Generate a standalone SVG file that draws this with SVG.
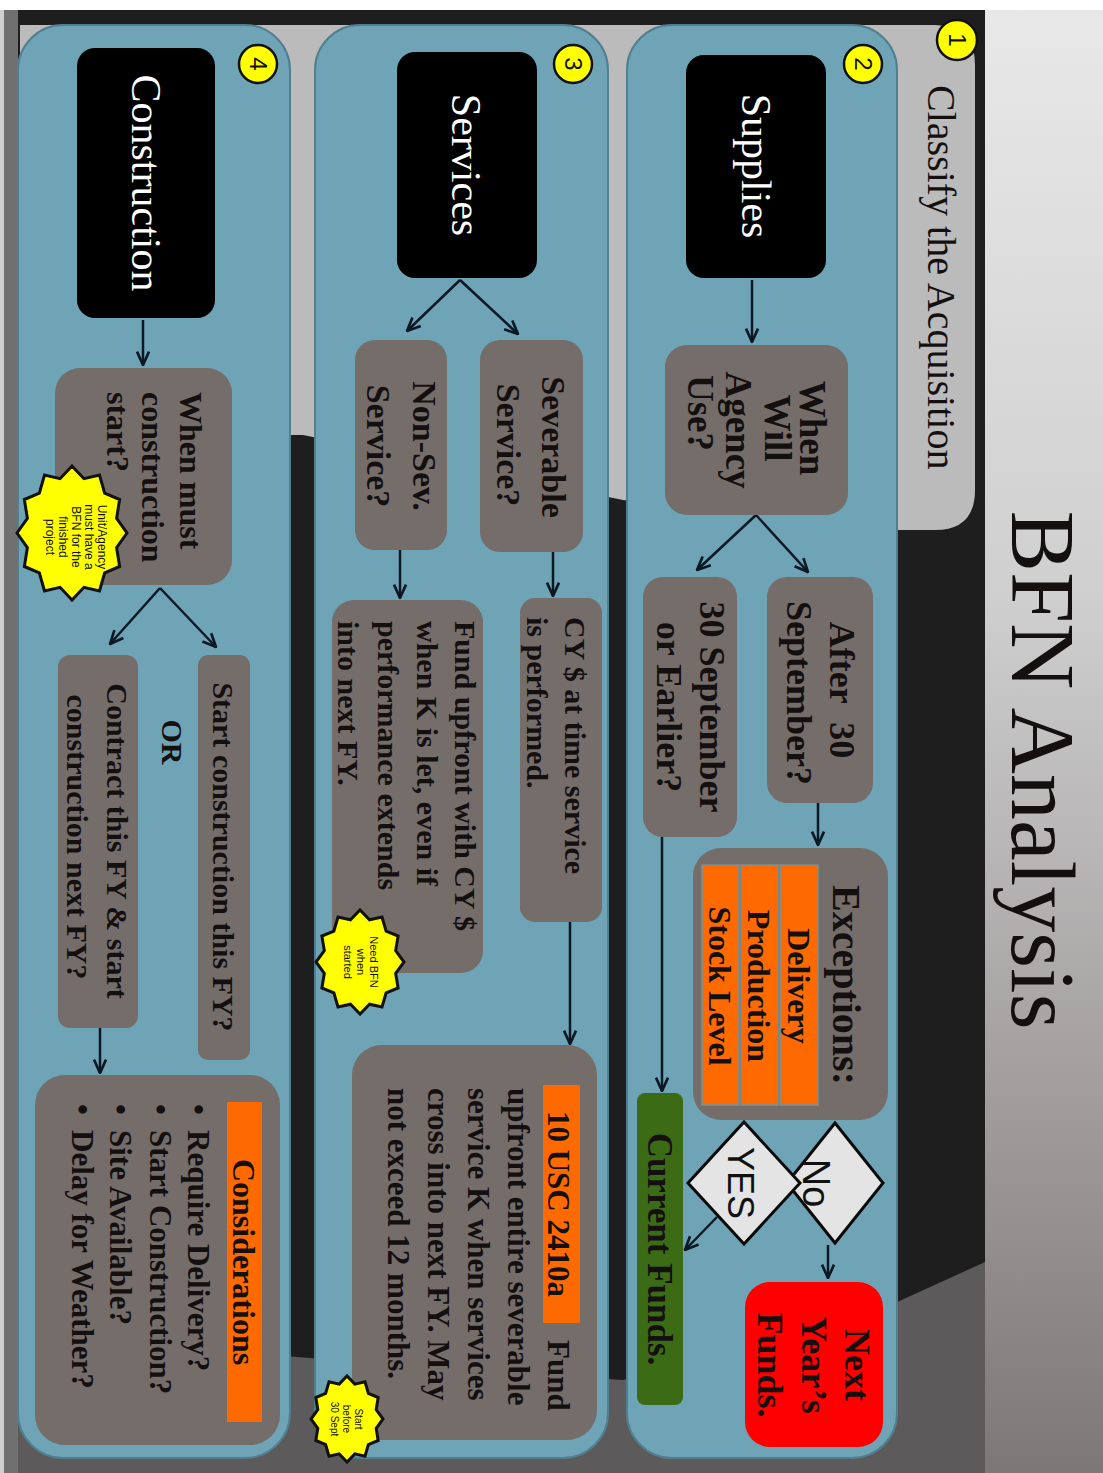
<svg xmlns="http://www.w3.org/2000/svg" width="1103" height="1473" viewBox="0 0 1103 1473">
<defs>
<style>
.panel{fill:#6ea4b6;stroke:#527f90;stroke-width:2}
.box{fill:#746d6a}
.blk{fill:#000000}
.org{fill:#ff6a00}
.bar{fill:#ff6a00;stroke:#6c95a4;stroke-width:1.5}
.t{font-family:"Liberation Serif","Times New Roman",serif;fill:#141010}
.b{font-weight:bold}
.w{fill:#ffffff}
.s{font-family:"Liberation Sans",Arial,sans-serif;fill:#111111}
.num{font-family:"Liberation Sans",Arial,sans-serif;font-size:24px;fill:#111111;text-anchor:middle}
.circ{fill:#ffff00;stroke:#111111;stroke-width:2.5}
.dia{fill:#e4e4e4;stroke:#0a0a0a;stroke-width:3}
.burst{fill:#ffff00;stroke:#111111;stroke-width:3;vector-effect:non-scaling-stroke}
.conn{fill:none;stroke:#0c1824;stroke-width:2.5;marker-end:url(#ah)}
.m{text-anchor:middle}
</style>
<marker id="ah" viewBox="0 0 12 12" refX="11" refY="6" markerWidth="16" markerHeight="16" markerUnits="userSpaceOnUse" orient="auto">
<path d="M1,1.5 L11,6 L1,10.5" fill="none" stroke="#0c1824" stroke-width="2"/>
</marker>
<linearGradient id="titleg" gradientUnits="userSpaceOnUse" x1="10" y1="0" x2="1473" y2="0">
<stop offset="0" stop-color="#e8e8e8"/>
<stop offset="0.4" stop-color="#cfcfcf"/>
<stop offset="0.75" stop-color="#a09c9c"/>
<stop offset="1" stop-color="#7c7878"/>
</linearGradient>
<polygon id="burst" class="burst" points="10,0 8.11,2.17 8.66,5 5.94,5.94 5,8.66 2.17,8.11 0,10 -2.17,8.11 -5,8.66 -5.94,5.94 -8.66,5 -8.11,2.17 -10,0 -8.11,-2.17 -8.66,-5 -5.94,-5.94 -5,-8.66 -2.17,-8.11 0,-10 2.17,-8.11 5,-8.66 5.94,-5.94 8.66,-5 8.11,-2.17"/>
</defs>
<rect x="0" y="0" width="1103" height="1473" fill="#ffffff"/>
<g transform="translate(1103,0) rotate(90)">
<g id="background">
<rect x="10" y="0" width="1463" height="118" fill="url(#titleg)"/>
<rect x="10" y="118" width="1463" height="985" fill="#1e1e1e"/>
<path d="M1262 118 L1303 208 L1380 480 L1365 700 L1350 900 L1340 1103 L1473 1103 L1473 118 Z" fill="#5c5a5a"/>
<rect x="10" y="1085" width="1463" height="18" fill="#707070"/>
<rect x="10" y="1099" width="1463" height="4" fill="#cfcfcf"/>
<text class="t" x="770" y="91" font-size="92" text-anchor="middle" fill="#111111">BFN Analysis</text>
</g>
<g id="panel1">
<path d="M65 128 H490 Q530 128 530 168 V215 L500 480 L435 800 V1083 H25 V168 Q25 128 65 128 Z" fill="#bbbbbb"/>
<text class="t" x="85" y="175" font-size="40">Classify the Acquisition</text>
<circle class="circ" cx="40" cy="146" r="20"/>
<text class="num" x="40" y="154">1</text>
</g>
<g id="panel2">
<rect class="panel" x="25" y="206" width="1433" height="270" rx="45"/>
<circle class="circ" cx="64" cy="240" r="19"/>
<text class="num" x="64" y="248">2</text>
</g>
<g id="panel3">
<rect class="panel" x="25" y="495" width="1433" height="293" rx="45"/>
<circle class="circ" cx="64" cy="530" r="19"/>
<text class="num" x="64" y="538">3</text>
</g>
<g id="panel4">
<rect class="panel" x="25" y="813" width="1433" height="272" rx="45"/>
<circle class="circ" cx="64" cy="845" r="19"/>
<text class="num" x="64" y="853">4</text>
</g>
<g id="connectors">
<path class="conn" d="M280 351 L342 351"/>
<path class="conn" d="M515 347 L572 295"/>
<path class="conn" d="M515 347 L570 406"/>
<path class="conn" d="M803 285 L845 285"/>
<path class="conn" d="M837 441 L1091 441"/>
<path class="conn" d="M1245 275 L1278 275"/>
<path class="conn" d="M1217 386 L1250 418"/>
<path class="conn" d="M280 643 L334 585"/>
<path class="conn" d="M280 643 L331 696"/>
<path class="conn" d="M552 550 L596 550"/>
<path class="conn" d="M550 703 L598 703"/>
<path class="conn" d="M922 533 L1044 533"/>
<path class="conn" d="M320 960 L365 960"/>
<path class="conn" d="M588 943 L647 887"/>
<path class="conn" d="M588 943 L644 993"/>
<path class="conn" d="M1028 1003 L1073 1003"/>
</g>
<g id="supplies">
<rect class="blk" x="55" y="277" width="223" height="140" rx="18"/>
<text class="t w m" x="166" y="361" font-size="42">Supplies</text>
</g>
<g id="when-will">
<rect class="box" x="345" y="255" width="170" height="183" rx="22"/>
<text class="t b m" x="428" y="303" font-size="37">When</text>
<text class="t b m" x="428" y="338" font-size="37">Will</text>
<text class="t b m" x="430" y="377" font-size="37">Agency</text>
<text class="t b m" x="413" y="415" font-size="37">Use?</text>
</g>
<g id="after-30">
<rect class="box" x="577" y="230" width="226" height="106" rx="20"/>
<text class="t b m" x="690" y="273" font-size="36" word-spacing="10">After 30</text>
<text class="t b m" x="693" y="316" font-size="36">September?</text>
</g>
<g id="sept-30">
<rect class="box" x="577" y="366" width="260" height="94" rx="20"/>
<text class="t b m" x="707" y="403" font-size="36">30 September</text>
<text class="t b m" x="707" y="446" font-size="36">or Earlier?</text>
</g>
<g id="exceptions">
<rect class="box" x="848" y="215" width="272" height="195" rx="28"/>
<text class="t b m" x="985" y="270" font-size="40">Exceptions:</text>
<rect class="bar" x="865" y="285" width="240" height="38"/>
<rect class="bar" x="865" y="325" width="240" height="37"/>
<rect class="bar" x="865" y="364" width="240" height="37"/>
<text class="t b m" x="986" y="315" font-size="32">Delivery</text>
<text class="t b m" x="986" y="355" font-size="32">Production</text>
<text class="t b m" x="986" y="394" font-size="32">Stock Level</text>
</g>
<g id="current-funds">
<rect x="1093" y="420" width="312" height="46" rx="8" fill="#3c6b16"/>
<text class="t b m" x="1249" y="455" font-size="35" fill="#0d1a05">Current Funds.</text>
</g>
<g id="no-diamond">
<polygon class="dia" points="1123,268 1183,220 1243,268 1183,316"/>
<text class="s m" x="1183" y="300" font-size="38">No</text>
</g>
<g id="yes-diamond">
<polygon class="dia" points="1122,359 1183,303 1244,359 1183,415"/>
<text class="s m" x="1183" y="375" font-size="36">YES</text>
</g>
<g id="next-year">
<rect x="1282" y="220" width="165" height="138" rx="25" fill="#ff0000"/>
<text class="t b m" x="1365" y="258" font-size="36" fill="#1a0000">Next</text>
<text class="t b m" x="1365" y="301" font-size="36" fill="#1a0000">Year’s</text>
<text class="t b m" x="1365" y="345" font-size="36" fill="#1a0000">Funds.</text>
</g>
<g id="services">
<rect class="blk" x="52" y="566" width="226" height="140" rx="18"/>
<text class="t w m" x="165" y="651" font-size="42">Services</text>
</g>
<g id="severable">
<rect class="box" x="340" y="520" width="212" height="103" rx="20"/>
<text class="t b m" x="447" y="561" font-size="34">Severable</text>
<text class="t b m" x="445" y="606" font-size="34">Service?</text>
</g>
<g id="non-sev">
<rect class="box" x="340" y="656" width="210" height="92" rx="20"/>
<text class="t b m" x="446" y="690" font-size="34">Non-Sev.</text>
<text class="t b m" x="446" y="736" font-size="34">Service?</text>
</g>
<g id="cy-service">
<rect class="box" x="598" y="501" width="324" height="82" rx="15"/>
<text class="t b" x="617" y="538" font-size="30">CY $ at time service</text>
<text class="t b" x="617" y="576" font-size="30">is performed.</text>
</g>
<g id="fund-upfront">
<rect class="box" x="600" y="620" width="373" height="151" rx="22"/>
<text class="t b" x="621" y="648" font-size="30">Fund upfront with CY $</text>
<text class="t b" x="621" y="686" font-size="30">when K is let, even if</text>
<text class="t b" x="621" y="725" font-size="30">performance extends</text>
<text class="t b" x="621" y="765" font-size="30">into next FY.</text>
</g>
<g id="need-bfn">
<use href="#burst" transform="translate(962,743) scale(5.2,4.4)"/>
<text class="s m" x="962" y="733" font-size="11">Need BFN</text>
<text class="s m" x="962" y="746" font-size="11">when</text>
<text class="s m" x="962" y="759" font-size="11">started</text>
</g>
<g id="usc-2410a">
<rect class="box" x="1045" y="506" width="395" height="245" rx="30"/>
<rect class="org" x="1085" y="523" width="238" height="37"/>
<text class="t b m" x="1204" y="555" font-size="31">10 USC 2410a</text>
<text class="t b" x="1340" y="555" font-size="31">Fund</text>
<text class="t b" x="1088" y="595" font-size="31">upfront entire severable</text>
<text class="t b" x="1088" y="635" font-size="31">service K when services</text>
<text class="t b" x="1088" y="675" font-size="31">cross into next FY. May</text>
<text class="t b" x="1088" y="715" font-size="31">not exceed 12 months.</text>
</g>
<g id="start-before">
<use href="#burst" transform="translate(1419,756) scale(4.3,3.6)"/>
<text class="s m" x="1419" y="748" font-size="10">Start</text>
<text class="s m" x="1419" y="760" font-size="10">before</text>
<text class="s m" x="1419" y="772" font-size="10">30 Sept</text>
</g>
<g id="construction">
<rect class="blk" x="48" y="888" width="270" height="138" rx="18"/>
<text class="t w m" x="183" y="971" font-size="42">Construction</text>
</g>
<g id="when-must">
<rect class="box" x="368" y="871" width="217" height="177" rx="25"/>
<text class="t b" x="392" y="923" font-size="32">When must</text>
<text class="t b" x="392" y="961" font-size="32">construction</text>
<text class="t b" x="392" y="996" font-size="32">start?</text>
</g>
<g id="unit-agency">
<use href="#burst" transform="translate(533,1031) scale(6.7,5.5)"/>
<text class="s m" x="537" y="1005" font-size="12">Unit/Agency</text>
<text class="s m" x="537" y="1018" font-size="12">must have a</text>
<text class="s m" x="537" y="1031" font-size="12">BFN for the</text>
<text class="s m" x="537" y="1044" font-size="12">finished</text>
<text class="s m" x="537" y="1057" font-size="12">project</text>
</g>
<g id="start-this-fy">
<rect class="box" x="655" y="853" width="405" height="52" rx="10"/>
<text class="t b m" x="857" y="890" font-size="30">Start construction this FY?</text>
</g>
<g id="or-label">
<text class="t b m" x="742" y="941" font-size="30" fill="#1b2d4f">OR</text>
</g>
<g id="contract-next-fy">
<rect class="box" x="655" y="965" width="373" height="80" rx="12"/>
<text class="t b m" x="841" y="996" font-size="30">Contract this FY &amp; start</text>
<text class="t b m" x="837" y="1036" font-size="30">construction next FY?</text>
</g>
<g id="considerations">
<rect class="box" x="1075" y="823" width="370" height="245" rx="30"/>
<rect class="org" x="1102" y="841" width="320" height="35"/>
<text class="t b m" x="1262" y="870" font-size="32">Considerations</text>
<text class="t b" x="1104" y="915" font-size="31">•</text>
<text class="t b" x="1130" y="915" font-size="31">Require Delivery?</text>
<text class="t b" x="1104" y="953" font-size="31">•</text>
<text class="t b" x="1130" y="953" font-size="31">Start Construction?</text>
<text class="t b" x="1104" y="993" font-size="31">•</text>
<text class="t b" x="1130" y="993" font-size="31">Site Available?</text>
<text class="t b" x="1104" y="1031" font-size="31">•</text>
<text class="t b" x="1130" y="1031" font-size="31">Delay for Weather?</text>
</g>
</g>
</svg>
